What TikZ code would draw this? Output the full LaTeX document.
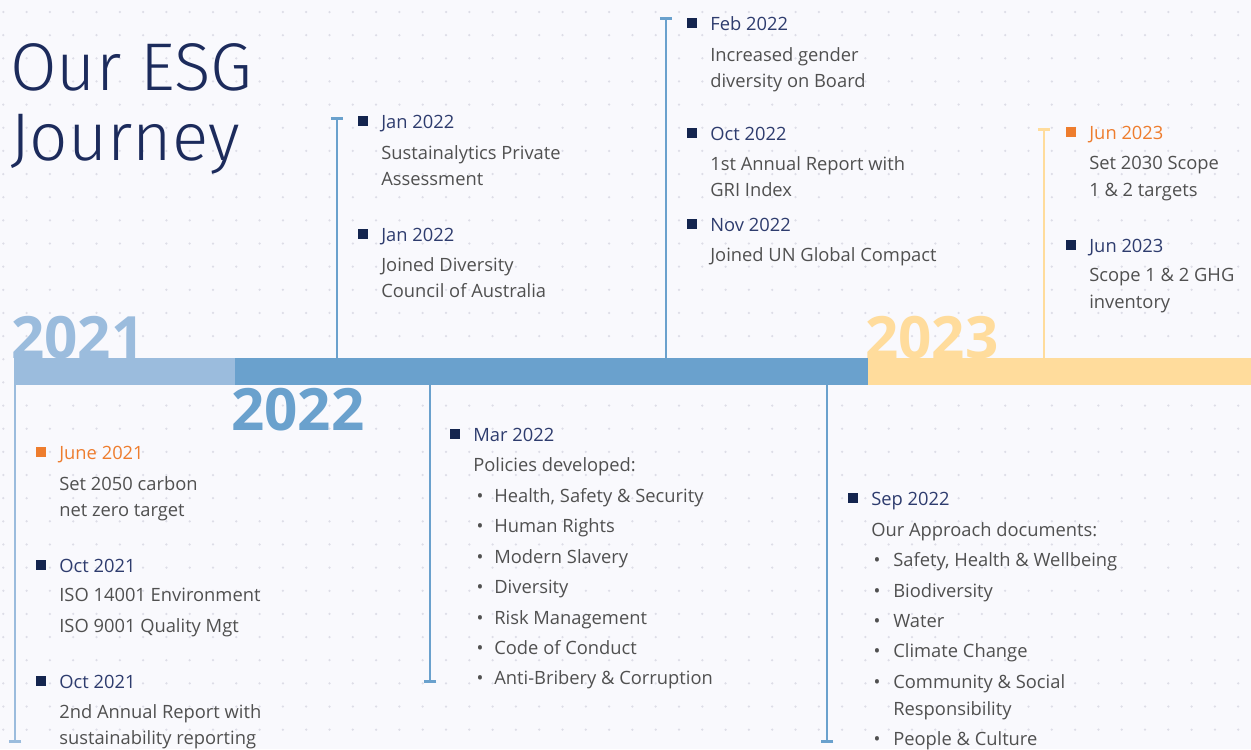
\documentclass[tikz,border=0pt]{standalone}
\usepackage{fontspec}
\setmainfont{Open Sans}
\newfontfamily\titlefont{Fira Sans}[UprightFont={* Light}]
\usetikzlibrary{arrows.meta,positioning}
\definecolor{bgColor}{HTML}{F9F9FD}
\definecolor{dotColor}{HTML}{DDDDE7}
\definecolor{yearA}{HTML}{9BBCDD}
\definecolor{yearB}{HTML}{6AA1CD}
\definecolor{yearC}{HTML}{FFDC9C}
\definecolor{navy}{HTML}{14254F}
\definecolor{dateNavy}{HTML}{2E3C6E}
\definecolor{accent}{HTML}{EE7D2E}
\definecolor{bodyGray}{HTML}{505050}
\definecolor{titleNavy}{HTML}{1C2B5C}

\tikzset{
  date/.style={anchor=base west,inner sep=0pt,text=dateNavy,
    font=\fontsize{11}{15.9}\selectfont},
  body/.style={anchor=north west,inner sep=0pt,align=left,text=bodyGray,
    font=\fontsize{11}{15.9}\selectfont},
  item/.style={anchor=base west,inner sep=0pt,text=bodyGray,
    font=\fontsize{11}{15.9}\selectfont},
  dot/.style={anchor=base,inner sep=0pt,text=bodyGray,
    font=\fontsize{11}{15.9}\selectfont},
  marker/.style={fill=navy,inner sep=0pt,minimum size=6pt},
  year/.style={anchor=base west,inner sep=0pt,
    font=\fontsize{35}{35}\selectfont\bfseries},
  stem/.style={line width=1.6pt,-{Bar[width=7.5pt,line width=1.6pt]}},
}

\begin{document}
\begin{tikzpicture}[x=0.6pt,y=-0.6pt]
    \useasboundingbox (0,0) rectangle (1251,749);
    \fill[bgColor] (0,0) rectangle (1251,749);
    % dotted paper
    \foreach \i in {0,...,53}
      \foreach \j in {0,...,32}
        \fill[dotColor] (3.3+23.3*\i,12+23.15*\j) circle[radius=0.75pt];

    % title (base is the last line)
    \node[anchor=base west,inner sep=0pt,text=titleNavy,align=left,
      font=\fontsize{40.5}{42}\titlefont] (title) at (10,160) {Our ESG\\Journey};

    % the time bar
    \fill[yearA] (14,358) rectangle (235,385);
    \fill[yearB] (235,358) rectangle (868,385);
    \fill[yearC] (868,358) rectangle (1251,385);

    \node[year,text=yearA] (y21) at (11,358) {2021};
    \node[year,text=yearB] (y22) at (231,430) {2022};
    \node[year,text=yearC] (y23) at (865,358) {2023};

    % stems
    \coordinate (s21a) at (15,385);   \coordinate (s21b) at (15,743);
    \coordinate (s22a) at (337,358);  \coordinate (s22b) at (337,117);
    \coordinate (s22c) at (666,358);  \coordinate (s22d) at (666,17);
    \coordinate (s22e) at (430,385);  \coordinate (s22f) at (430,683);
    \coordinate (s22g) at (827,385);  \coordinate (s22h) at (827,743);
    \coordinate (s23a) at (1044,358); \coordinate (s23b) at (1044,128);
    \draw[stem,yearA] (s21a) -- (s21b);
    \draw[stem,yearB] (s22a) -- (s22b);
    \draw[stem,yearB] (s22c) -- (s22d);
    \draw[stem,yearB] (s22e) -- (s22f);
    \draw[stem,yearB] (s22g) -- (s22h);
    \draw[stem,yearC] (s23a) -- (s23b);

    % 2021, below the bar
    \node[marker,fill=accent] (m1) at (41,452) {};
    \node[date,text=accent] (d1) at (59,459) {June 2021};
    \node[body] (b1) at (59,476) {Set 2050 carbon\\net zero target};
    \node[marker] (m2) at (41,565) {};
    \node[date] (d2) at (59,572) {Oct 2021};
    \node[body] (b2) at (59,588) {ISO 14001 Environment\\[2.7pt]ISO 9001 Quality Mgt};
    \node[marker] (m3) at (41,681) {};
    \node[date] (d3) at (59,688) {Oct 2021};
    \node[body] (b3) at (59,704) {2nd Annual Report with\\sustainability reporting};

    % Jan 2022
    \node[marker] (m4) at (363,121) {};
    \node[date] (d4) at (381,128) {Jan 2022};
    \node[body] (b4) at (381,145) {Sustainalytics Private\\Assessment};
    \node[marker] (m5) at (363,234) {};
    \node[date] (d5) at (381,241) {Jan 2022};
    \node[body] (b5) at (381,257) {Joined Diversity\\Council of Australia};

    % Mar 2022
    \node[marker] (m6) at (455,434) {};
    \node[date] (d6) at (473,441) {Mar 2022};
    \node[item] (p0) at (473,471) {Policies developed:};
    \foreach \t/\y [count=\i] in {{Health, Safety \& Security}/502,{Human Rights}/532,
        {Modern Slavery}/563,{Diversity}/593,{Risk Management}/624,
        {Code of Conduct}/654,{Anti-Bribery \& Corruption}/684}{
      \node[dot] (pb\i) at (480,\y) {\textbullet};
      \node[item] (p\i) at (494,\y) {\t};
    }

    % Feb to Nov 2022
    \node[marker] (m7) at (692,23) {};
    \node[date] (d7) at (710,30) {Feb 2022};
    \node[body] (b7) at (710,47) {Increased gender\\diversity on Board};
    \node[marker] (m8) at (692,133) {};
    \node[date] (d8) at (710,140) {Oct 2022};
    \node[body] (b8) at (710,156) {1st Annual Report with\\GRI Index};
    \node[marker] (m9) at (692,224) {};
    \node[date] (d9) at (710,231) {Nov 2022};
    \node[body] (b9) at (710,247) {Joined UN Global Compact};

    % Sep 2022
    \node[marker] (m10) at (853,498) {};
    \node[date] (d10) at (871,505) {Sep 2022};
    \node[item] (a0) at (871,536) {Our Approach documents:};
    \foreach \t/\y [count=\i] in {{Safety, Health \& Wellbeing}/566,{Biodiversity}/597,
        {Water}/627,{Climate Change}/657,{Community \& Social}/688,{People \& Culture}/745}{
      \node[dot] (ab\i) at (877,\y) {\textbullet};
      \node[item] (a\i) at (893,\y) {\t};
    }
    \node[item] (a5b) at (893,715) {Responsibility};

    % 2023
    \node[marker,fill=accent] (m11) at (1071,132) {};
    \node[date,text=accent] (d11) at (1089,139) {Jun 2023};
    \node[body] (b11) at (1089,156) {Set 2030 Scope\\1 \& 2 targets};
    \node[marker] (m12) at (1071,245) {};
    \node[date] (d12) at (1089,252) {Jun 2023};
    \node[body] (b12) at (1089,268) {Scope 1 \& 2 GHG\\inventory};
\end{tikzpicture}
\end{document}
